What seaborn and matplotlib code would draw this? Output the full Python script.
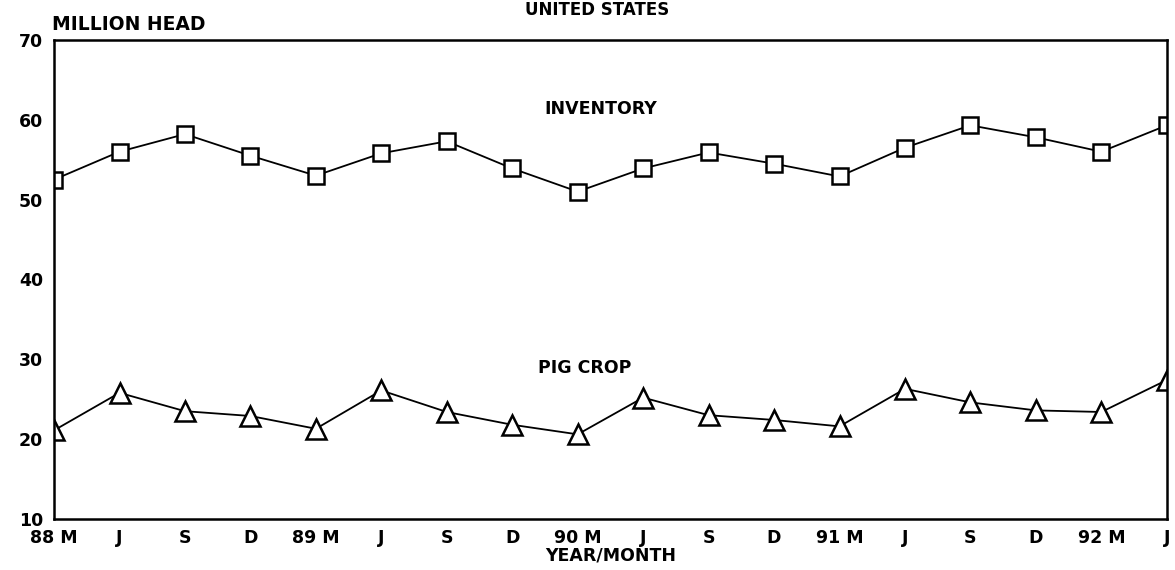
import numpy as np
import pandas as pd
import seaborn as sns
import matplotlib
matplotlib.use("Agg")
import matplotlib.pyplot as plt

# valores (milhões de cabeças)
meses = ["88 M", "J", "S", "D", "89 M", "J", "S", "D", "90 M", "J", "S", "D",
         "91 M", "J", "S", "D", "92 M", "J"]
inventario = [52.5, 56.0, 58.2, 55.5, 53.0, 55.8, 57.3, 53.9, 51.0, 53.9, 55.9, 54.5,
              52.9, 56.5, 59.3, 57.8, 56.0, 59.3]
leitoes = [21.1, 25.8, 23.5, 22.9, 21.3, 26.1, 23.4, 21.8, 20.6, 25.2, 23.0, 22.4,
           21.6, 26.3, 24.6, 23.6, 23.4, 27.4]
y_ticks = [10, 20, 30, 40, 50, 60, 70]

df = pd.DataFrame({"idx": np.arange(len(meses)), "inventario": inventario, "leitoes": leitoes})

sns.set_style("white")
plt.rcParams["font.family"] = ["DejaVu Sans"]
plt.rcParams["font.weight"] = "bold"
plt.rcParams["text.color"] = "black"
plt.rcParams["axes.labelcolor"] = "black"

fig = plt.figure(figsize=(11.75, 5.7), dpi=100)
ax = fig.add_axes([0.046, 0.0895, 0.947, 0.8405])

sns.lineplot(data=df, x="idx", y="inventario", ax=ax, color="black", lw=1.3,
             marker="s", markersize=12, markerfacecolor="white",
             markeredgecolor="black", markeredgewidth=1.8)
sns.lineplot(data=df, x="idx", y="leitoes", ax=ax, color="black", lw=1.3,
             marker="^", markersize=14, markerfacecolor="white",
             markeredgecolor="black", markeredgewidth=1.8)

ax.set_xlim(0, len(meses) - 1)
ax.set_ylim(10, 70)
ax.set_xticks(df["idx"])
ax.set_xticklabels(meses, fontsize=12.5, fontweight="bold")
ax.set_yticks(y_ticks)
ax.set_yticklabels([str(v) for v in y_ticks], fontsize=12.5, fontweight="bold")
ax.tick_params(axis="both", direction="in", length=8, width=1.5, colors="black")
ax.tick_params(axis="x", pad=7)
ax.tick_params(axis="y", pad=8)
for s in ax.spines.values():
    s.set_color("black")
    s.set_linewidth(1.8)
    s.set_visible(True)

ax.set_xlabel("YEAR/MONTH", fontsize=12.5, fontweight="bold", labelpad=0)
ax.set_ylabel("")

ax.text(8.35, 61.3, "INVENTORY", fontsize=12.5, fontweight="bold", ha="center", va="center")
ax.text(8.1, 28.9, "PIG CROP", fontsize=12.5, fontweight="bold", ha="center", va="center")

fig.text(0.044, 0.94, "MILLION HEAD", fontsize=13.5, fontweight="bold", ha="left", va="bottom")
fig.text(0.508, 0.998, "UNITED STATES", fontsize=12, fontweight="bold", ha="center", va="top")

fig.savefig("out.png", dpi=100)
